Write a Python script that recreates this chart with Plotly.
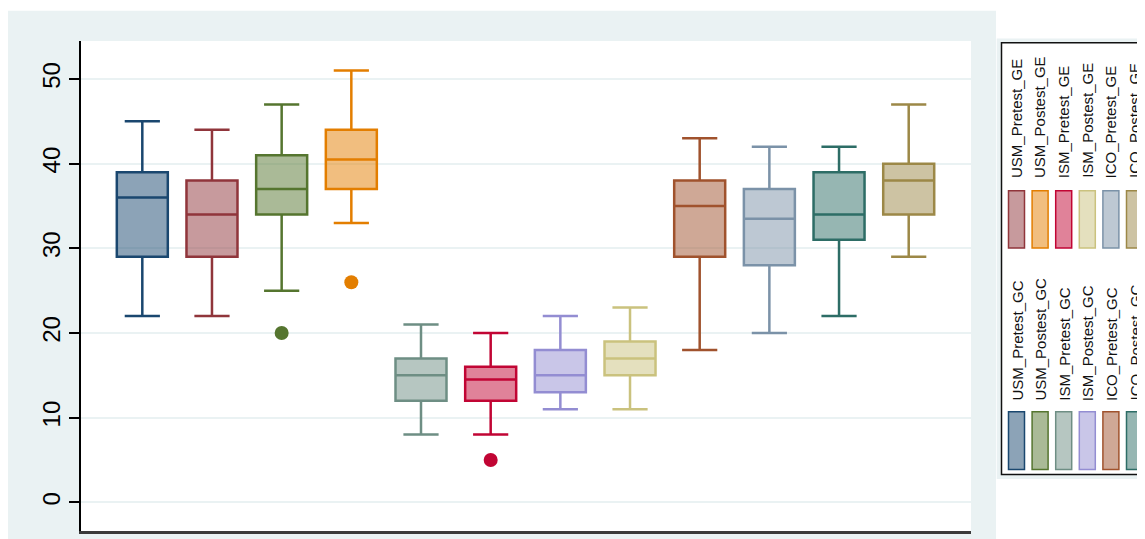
import plotly.graph_objects as go

# ---------------- data ----------------
categories = ["USM_Pretest_GC", "USM_Pretest_GE", "USM_Postest_GC", "USM_Postest_GE",
              "ISM_Pretest_GC", "ISM_Pretest_GE", "ISM_Postest_GC", "ISM_Postest_GE",
              "ICO_Pretest_GC", "ICO_Pretest_GE", "ICO_Postest_GC", "ICO_Postest_GE"]
lower_whisker = [22, 22, 25, 33, 8, 8, 11, 11, 18, 20, 22, 29]
q1_values = [29, 29, 34, 37, 12, 12, 13, 15, 29, 28, 31, 34]
median_values = [36, 34, 37, 40.5, 15, 14.5, 15, 17, 35, 33.5, 34, 38]
q3_values = [39, 38, 41, 44, 17, 16, 18, 19, 38, 37, 39, 40]
upper_whisker = [45, 44, 47, 51, 21, 20, 22, 23, 43, 42, 42, 47]
outlier_categories = ["USM_Postest_GC", "USM_Postest_GE", "ISM_Pretest_GE"]
outlier_values = [20, 26, 5]
y_tick_values = [0, 10, 20, 30, 40, 50]
y_tick_labels = ["0", "10", "20", "30", "40", "50"]

colors = ["#1a476f", "#90353b", "#55752f", "#e37e00", "#6e8e84", "#c10534",
          "#938dd2", "#cac27e", "#a0522d", "#7b92a8", "#2d6d66", "#9c8847"]
color_of = dict(zip(categories, colors))


def rgba(hexc, a):
    h = hexc.lstrip("#")
    r, g, b = int(h[0:2], 16), int(h[2:4], 16), int(h[4:6], 16)
    return f"rgba({r},{g},{b},{a})"


# The page is shown with the browser's default 8px body margin, so the
# figure is laid out 8px up/left of the target screen positions.
OFF = 8
W, H = 1145 - OFF, 539 - OFF
L, R, T, B = 81, 971, 41, 531   # plot area, screen pixels


def px(x):
    return (x - L) / (R - L)


def py(y):
    return (B - y) / (B - T)


fig = go.Figure()

for i, cat in enumerate(categories):
    c = colors[i]
    fig.add_trace(go.Box(
        x=[cat], q1=[q1_values[i]], median=[median_values[i]], q3=[q3_values[i]],
        lowerfence=[lower_whisker[i]], upperfence=[upper_whisker[i]],
        name=cat, fillcolor=rgba(c, 0.5), line=dict(color=c, width=2.5),
        width=0.732, whiskerwidth=0.69, boxpoints=False, showlegend=False,
    ))

fig.add_trace(go.Scatter(
    x=outlier_categories, y=outlier_values, mode="markers",
    marker=dict(size=14, color=[color_of[c] for c in outlier_categories], line=dict(width=0)),
    showlegend=False,
))

shapes = []
# outer light background
shapes.append(dict(type="rect", xref="paper", yref="paper",
                   x0=px(7.5), x1=px(996), y0=py(560), y1=py(10.7),
                   fillcolor="#eaf2f3", line=dict(width=0), layer="below"))
# white plot region
shapes.append(dict(type="rect", xref="paper", yref="paper",
                   x0=0, x1=1, y0=0, y1=1,
                   fillcolor="white", line=dict(width=0), layer="below"))
# legend frame
shapes.append(dict(type="rect", xref="paper", yref="paper",
                   x0=px(996.7), x1=px(1170), y0=py(479), y1=py(38.5),
                   fillcolor="#eaf2f3", line=dict(width=0), layer="below"))
shapes.append(dict(type="rect", xref="paper", yref="paper",
                   x0=px(1001.5), x1=px(1175), y0=py(474.5), y1=py(42.7),
                   fillcolor="white", line=dict(width=1.5, color="#111111"), layer="below"))

annotations = []
ge = [c for c in categories if c.endswith("_GE")]
gc = [c for c in categories if c.endswith("_GC")]
groups = [(ge, 190.7, 248.0, 180.0), (gc, 411.7, 469.5, 403.0)]
for names, sw_top, sw_bot, text_bottom in groups:
    for j, name in enumerate(names):
        cx = 1016.5 + 23.6 * j
        c = color_of[name]
        shapes.append(dict(type="rect", xref="paper", yref="paper",
                           x0=px(cx - 8), x1=px(cx + 8), y0=py(sw_bot), y1=py(sw_top),
                           fillcolor=rgba(c, 0.5), line=dict(width=1.5, color=c)))
        annotations.append(dict(xref="paper", yref="paper", x=px(cx), y=py(text_bottom),
                                text=name, textangle=-90, showarrow=False,
                                xanchor="center", yanchor="bottom",
                                font=dict(family="Liberation Sans", size=15, color="#111111")))

fig.update_layout(
    width=W, height=H,
    margin=dict(l=L - OFF, r=W - (R - OFF), t=T - OFF, b=H - (B - OFF), pad=0),
    paper_bgcolor="white", plot_bgcolor="rgba(0,0,0,0)",
    boxmode="overlay", showlegend=False,
    shapes=shapes, annotations=annotations,
    font=dict(family="Liberation Sans", color="black"),
    xaxis=dict(type="category", categoryorder="array", categoryarray=categories,
               range=[-0.880, 11.894], showticklabels=False, ticks="",
               showgrid=False, zeroline=False,
               showline=True, linecolor="#3a3a3a", linewidth=2.5),
    yaxis=dict(range=[-3.39, 54.49], tickvals=y_tick_values, ticktext=y_tick_labels,
               tickangle=-90, tickfont=dict(size=24, color="black"),
               ticks="outside", ticklen=10, tickwidth=1.5, tickcolor="black",
               showgrid=True, gridcolor="#eaf2f3", gridwidth=2,
               zeroline=False, showline=True, linecolor="black", linewidth=1.5),
)

fig.write_html("out.html")
